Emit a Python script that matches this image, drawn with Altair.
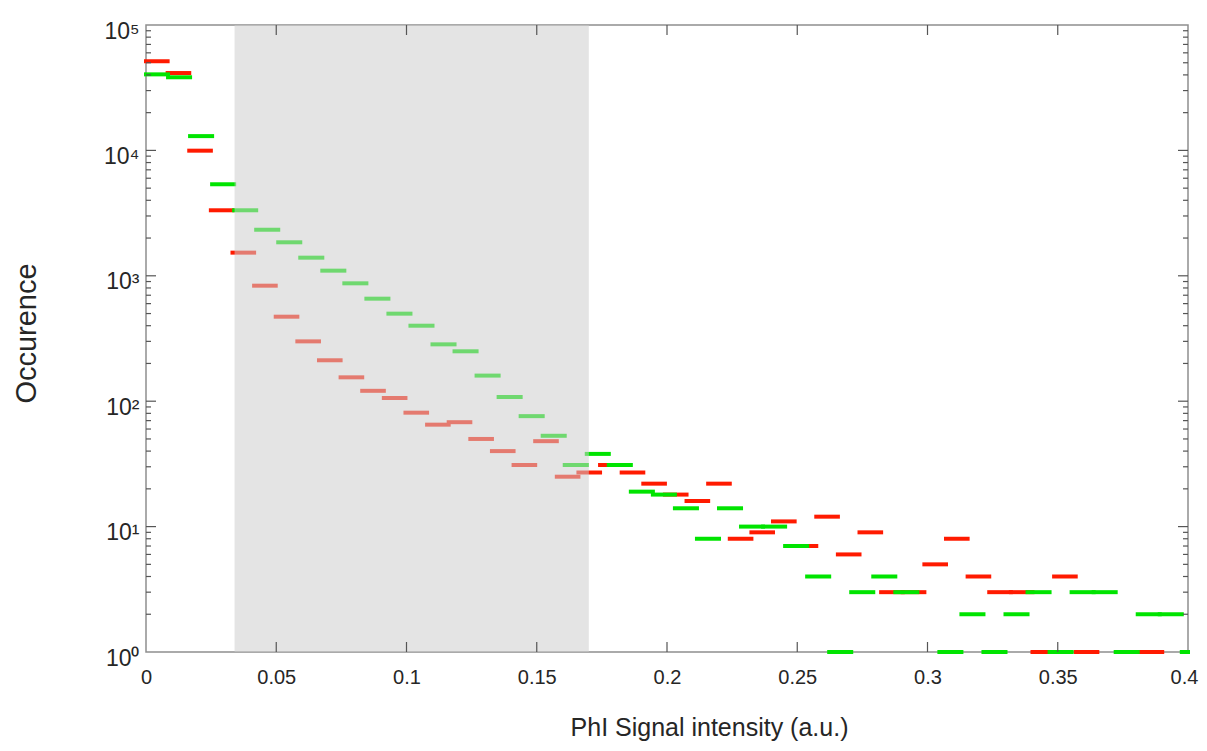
import altair as alt
import pandas as pd

# ---- data (histogram counts per bin) ----
green_counts = [40400, 38300, 13000, 5370, 3330, 2330, 1850, 1395, 1099, 871,
                657, 499, 400, 284, 250, 160, 108, 76, 53, 31,
                38, 31, 19, 18, 14, 8, 14, 10, 10, 7,
                4, 1, 3, 4, 3, 0, 1, 2, 1, 2,
                3, 1, 3, 3, 1, 2, 2, 1]
red_counts = [51400, 41400, 9950, 3330, 1530, 834, 472, 300, 212, 155,
              121, 106, 81, 65, 68, 50, 40, 31, 48, 25,
              27, 31, 27, 22, 18, 16, 22, 8, 9, 11,
              7, 12, 6, 9, 3, 3, 5, 8, 4, 3,
              3, 1, 4, 1, 0, 0, 1]
red_bin_width = 0.0083
green_bin_width = 0.00846
band_start = [0.034]
band_end = [0.17]
x_tick_values = [0, 0.05, 0.1, 0.15, 0.2, 0.25, 0.3, 0.35, 0.4]
y_decades = [1, 10, 100, 1000, 10000, 100000]
minor_multipliers = [2, 3, 4, 5, 6, 7, 8, 9]

W, H = 1042, 627
FONT = "Liberation Sans"
TXT = "#262626"


def seg_df(counts, width):
    rows = []
    for i, c in enumerate(counts):
        if c > 0:
            rows.append({"start": i * width, "end": (i + 1) * width, "count": c})
    return pd.DataFrame(rows)


red_df = seg_df(red_counts, red_bin_width)
green_df = seg_df(green_counts, green_bin_width)
band_df = pd.DataFrame({"start": band_start, "end": band_end})

xscale = alt.Scale(domain=[0, 0.4], clamp=True, nice=False, zero=False)
yscale = alt.Scale(type="log", domain=[1, 100000], nice=False)

x_axis = alt.Axis(
    values=x_tick_values, format="~g", ticks=False, tickSize=0, domain=False, grid=False,
    labelFont=FONT, labelFontSize=20, labelColor=TXT, labelPadding=15,
    labelBaseline="top", labelFlush=False, labelOverlap=False,
    labelOffset={"condition": {"test": "datum.value >= 0.4", "value": -4}, "value": 0},
    title="PhI Signal intensity (a.u.)", titleFont=FONT, titleFontSize=25,
    titleFontWeight="normal", titleColor=TXT, titleX=563, titleY=83,
    titleAlign="center", titleBaseline="alphabetic",
)
y_axis = alt.Axis(
    values=y_decades, ticks=False, tickSize=0, domain=False, grid=False,
    labelExpr="'10' + ['⁰','¹','²','³','⁴','⁵'][round(log(datum.value)/LN10)]",
    labelFont=FONT, labelFontSize=23, labelColor=TXT, labelPadding=7,
    labelBaseline="alphabetic", labelOffset=13, labelFlush=False, labelOverlap=False,
    title="Occurence", titleFont=FONT, titleFontSize=29, titleFontWeight="normal",
    titleColor=TXT, titleX=-111, titleY=308, titleAngle=270,
    titleAlign="center", titleBaseline="alphabetic",
)

red = alt.Chart(red_df).mark_rule(color="#ff1a00", strokeWidth=4, strokeCap="square").encode(
    x=alt.X("start:Q", scale=xscale, axis=x_axis),
    x2="end:Q",
    y=alt.Y("count:Q", scale=yscale, axis=y_axis),
)
green = alt.Chart(green_df).mark_rule(color="#00e400", strokeWidth=4, strokeCap="square").encode(
    x=alt.X("start:Q", scale=xscale, axis=x_axis),
    x2="end:Q",
    y=alt.Y("count:Q", scale=yscale, axis=y_axis),
)
band = alt.Chart(band_df).mark_rect(color="#cdcdcd", opacity=0.54).encode(
    x=alt.X("start:Q", scale=xscale, axis=x_axis),
    x2="end:Q",
    y=alt.value(0),
    y2=alt.value(H),
)

# inward tick marks (MATLAB style box)
xt_df = pd.DataFrame({"v": x_tick_values[1:-1]})
yt_df = pd.DataFrame({"v": y_decades[1:-1]})
ym_df = pd.DataFrame({"v": [m * d for d in y_decades[:-1] for m in minor_multipliers]})

tick_style = dict(color="#555555", strokeWidth=1.2)
x_ticks_bottom = alt.Chart(xt_df).mark_rule(**tick_style).encode(
    x=alt.X("v:Q", scale=xscale, axis=x_axis), y=alt.value(H - 10), y2=alt.value(H))
x_ticks_top = alt.Chart(xt_df).mark_rule(**tick_style).encode(
    x=alt.X("v:Q", scale=xscale, axis=x_axis), y=alt.value(0), y2=alt.value(10))
y_ticks_left = alt.Chart(yt_df).mark_rule(**tick_style).encode(
    y=alt.Y("v:Q", scale=yscale, axis=y_axis), x=alt.value(0), x2=alt.value(10))
y_ticks_right = alt.Chart(yt_df).mark_rule(**tick_style).encode(
    y=alt.Y("v:Q", scale=yscale, axis=y_axis), x=alt.value(W - 10), x2=alt.value(W))
y_minor_left = alt.Chart(ym_df).mark_rule(**tick_style).encode(
    y=alt.Y("v:Q", scale=yscale, axis=y_axis), x=alt.value(0), x2=alt.value(5))
y_minor_right = alt.Chart(ym_df).mark_rule(**tick_style).encode(
    y=alt.Y("v:Q", scale=yscale, axis=y_axis), x=alt.value(W - 5), x2=alt.value(W))

chart = alt.layer(
    red, green, band,
    x_ticks_bottom, x_ticks_top, y_ticks_left, y_ticks_right, y_minor_left, y_minor_right,
).properties(
    width=W, height=H,
    padding={"left": 138, "top": 17, "right": 11, "bottom": 91},
    autosize=alt.AutoSizeParams(type="none"),
    background="white",
).configure_view(stroke="#8f8f8f", strokeWidth=1.5)

chart.save("out.html", embed_options={"renderer": "svg", "actions": False})
